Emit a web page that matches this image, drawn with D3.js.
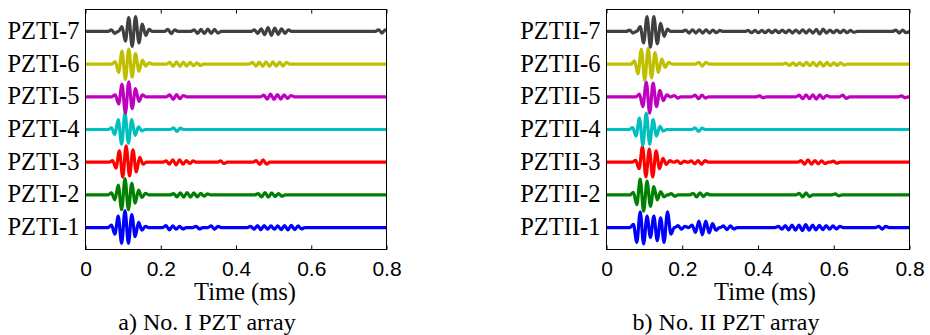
<!DOCTYPE html>
<html><head><meta charset="utf-8">
<script src="https://cdn.jsdelivr.net/npm/d3@7"></script>
<style>body{margin:0;background:#fff}svg{display:block}</style>
</head><body>
<svg id="c" width="930" height="335"></svg>
<script>
// ---------- data ----------
const timeTicks = [0, 0.2, 0.4, 0.6, 0.8];
const tickLabels = ["0", "0.2", "0.4", "0.6", "0.8"];
const traceColors = ["#0000ff", "#008000", "#ff0000", "#00bfbf", "#bf00bf", "#bfbf00", "#404040"];
const namesI = ["PZTI-1", "PZTI-2", "PZTI-3", "PZTI-4", "PZTI-5", "PZTI-6", "PZTI-7"];
const namesII = ["PZTII-1", "PZTII-2", "PZTII-3", "PZTII-4", "PZTII-5", "PZTII-6", "PZTII-7"];
const halfPeriod = 0.009; // ms between successive extrema
// each packet: [start time (ms), successive extrema amplitudes]
const packetsI1 = [[0.06, [0.08,-0.2,0.35,-0.48,0.52,-0.48,0.4,-0.28,0.16,-0.08,0.04]], [0.205, [0.06,-0.07,0.05,-0.05,0.04,-0.04]], [0.285, [0.04,-0.04]], [0.325, [0.05,-0.05,0.04]], [0.43, [0.04,-0.05,0.06,-0.06,0.06,-0.05,0.05,-0.05,0.05,-0.06,0.06,-0.07,0.07,-0.06,0.05,-0.04]]];
const packetsI2 = [[0.06, [0.06,-0.15,0.3,-0.45,0.5,-0.45,0.35,-0.25,0.15,-0.08,0.05]], [0.225, [0.04,-0.06,0.06,-0.07,0.07,-0.07,0.06,-0.06,0.05,-0.04,0.03]], [0.45, [0.04,-0.06,0.07,-0.07,0.06,-0.05,0.04,-0.04]]];
const packetsI3 = [[0.063, [0.05,-0.18,0.35,-0.45,0.5,-0.42,0.38,-0.3,0.15,-0.06]], [0.205, [0.04,-0.06,0.07,-0.08,0.07,-0.06,0.05,-0.04,0.04]], [0.35, [0.04,-0.04]], [0.445, [0.05,-0.07,0.07,-0.06]]];
const packetsI4 = [[0.06, [0.05,-0.15,0.3,-0.45,0.5,-0.42,0.3,-0.18,0.08,-0.04]], [0.225, [0.05,-0.06,0.04]]];
const packetsI5 = [[0.07, [0.06,-0.22,0.38,-0.5,0.46,-0.36,0.25,-0.14,0.06]], [0.215, [0.06,-0.08,0.07,-0.06,0.04]], [0.465, [0.05,-0.07,0.08,-0.08,0.07,-0.07,0.06,-0.05,0.04]]];
const packetsI6 = [[0.07, [0.08,-0.25,0.4,-0.47,0.46,-0.4,0.32,-0.22,0.12,-0.06,0.04]], [0.215, [0.05,-0.07,0.07,-0.07,0.06,-0.06,0.05,-0.05,0.04,-0.04]], [0.435, [0.05,-0.06,0.06,-0.07,0.07,-0.07,0.07,-0.06,0.06,-0.06,0.05]]];
const packetsI7 = [[0.06, [0.05,-0.06]], [0.088, [0.15,-0.3,0.42,-0.46,0.45,-0.35,0.22,-0.12,0.06]], [0.21, [0.06,-0.07,0.05]], [0.28, [0.05,-0.06,0.06,-0.07,0.07,-0.06,0.06,-0.05]], [0.44, [0.05,-0.06,0.08,-0.1,0.12,-0.12,0.1,-0.09,0.08,-0.06,0.05]], [0.77, [0.05,-0.05,0.05]]];
const packetsII1 = [[0.062, [0.1,-0.45,0.48,-0.5,0.35,-0.3,0.35,-0.4,0.3,-0.45,0.48,-0.2]], [0.18, [0.06,-0.05,0.04]], [0.217, [0.08,-0.15,0.2,-0.22,0.2,-0.16,0.12,-0.08]], [0.3, [0.05,-0.06,0.05,-0.04]], [0.445, [0.04,-0.05,0.06,-0.07,0.08,-0.08,0.08,-0.09,0.09,-0.08,0.08,-0.07,0.07,-0.06,0.06,-0.05,0.05,-0.04,0.04]], [0.71, [0.04,-0.05,0.04]]];
const packetsII2 = [[0.062, [0.08,-0.3,0.48,-0.5,0.42,-0.35,0.25,-0.15,0.1,-0.06]], [0.162, [0.04,-0.04]], [0.22, [0.05,-0.06,0.06,-0.05,0.04]], [0.5, [0.05,-0.06,0.06,-0.05]], [0.595, [0.03,-0.03]]];
const packetsII3 = [[0.068, [0.06,-0.2,0.48,-0.45,0.4,-0.45,0.35,-0.2,0.12,-0.07,0.05]], [0.178, [0.04,-0.04,0.03]], [0.215, [0.04,-0.05,0.05,-0.06,0.05]], [0.505, [0.05,-0.06,0.07,-0.06,0.05,-0.05,0.04,-0.04]], [0.59, [0.03,-0.03]]];
const packetsII4 = [[0.06, [0.06,-0.2,0.35,-0.48,0.5,-0.45,0.3,-0.2,0.1,-0.05]], [0.225, [0.05,-0.06,0.04]]];
const packetsII5 = [[0.078, [0.08,-0.3,0.45,-0.5,0.42,-0.3,0.2,-0.12,0.06]], [0.17, [0.04,-0.04]], [0.225, [0.05,-0.06,0.05,-0.04]], [0.395, [0.03,-0.03]], [0.5, [0.05,-0.06,0.06,-0.06,0.06,-0.07,0.06,-0.05,0.04]], [0.615, [0.05,-0.05]], [0.77, [0.03,-0.03]]];
const packetsII6 = [[0.065, [0.1,-0.3,0.45,-0.5,0.48,-0.42,0.35,-0.25,0.15,-0.1,0.05]], [0.235, [0.05,-0.06,0.05]], [0.465, [0.03,-0.04,0.04,-0.04,0.04,-0.05,0.05,-0.05,0.05,-0.06,0.06,-0.06,0.05,-0.05,0.04,-0.04,0.04,-0.03]]];
const packetsII7 = [[0.052, [0.04,-0.05]], [0.08, [0.15,-0.35,0.45,-0.48,0.45,-0.38,0.25,-0.15,0.07]], [0.2, [0.04,-0.05,0.05,-0.05,0.05,-0.05,0.05,-0.05,0.04,-0.04,0.03]], [0.365, [0.03,-0.04,0.03,-0.04,0.03,-0.04,0.04,-0.04,0.04,-0.04,0.04,-0.04,0.04,-0.05,0.04,-0.05,0.05,-0.05,0.05,-0.05,0.06,-0.08,0.07,-0.05,0.04,-0.04,0.04,-0.04,0.04,-0.04,0.03,-0.03]], [0.755, [0.04,-0.05,0.04,-0.04]]];
const panelI = [packetsI1, packetsI2, packetsI3, packetsI4, packetsI5, packetsI6, packetsI7];
const panelII = [packetsII1, packetsII2, packetsII3, packetsII4, packetsII5, packetsII6, packetsII7];
const captions = ["a) No. I PZT array", "b) No. II PZT array"];
const xTitle = "Time (ms)";

// ---------- drawing ----------
const svg = d3.select("#c");
const serif = "'Liberation Serif','Times New Roman',serif";
const sans = "'Liberation Sans',Arial,sans-serif";

function traceToPoints(packets) {
  const pts = [[0, 0]];
  packets.forEach(([t0, amps]) => {
    pts.push([t0, 0]);
    amps.forEach((a, i) => pts.push([t0 + (i + 1) * halfPeriod, a]));
    pts.push([t0 + (amps.length + 1) * halfPeriod, 0]);
  });
  pts.push([0.8, 0]);
  return pts;
}

function drawPanel(cfg) {
  const {x0, x1, y0, y1, packets, names, caption, titleX, capX, id} = cfg;
  const x = d3.scaleLinear().domain([0, 0.8]).range([x0, x1]);
  const y = d3.scaleLinear().domain([0.33, 7.67]).range([y1, y0]);
  const g = svg.append("g");
  g.append("clipPath").attr("id", id).append("rect")
    .attr("x", x0).attr("y", y0).attr("width", x1 - x0).attr("height", y1 - y0);

  const lines = g.append("g").attr("clip-path", `url(#${id})`);
  packets.forEach((p, k) => {
    const pts = traceToPoints(p);
    const line = d3.line().x(d => x(d[0])).y(d => y(k + 1 + d[1])).curve(d3.curveMonotoneX);
    lines.append("path").attr("d", line(pts)).attr("fill", "none")
      .attr("stroke", traceColors[k]).attr("stroke-width", 3.2)
      .attr("stroke-linejoin", "round").attr("stroke-linecap", "butt");
  });

  g.append("rect").attr("x", x0).attr("y", y0).attr("width", x1 - x0).attr("height", y1 - y0)
    .attr("fill", "none").attr("stroke", "#000").attr("stroke-width", 1);

  const axB = d3.axisBottom(x).tickValues(timeTicks).tickSize(-4).tickFormat((d, i) => tickLabels[i]);
  const gb = g.append("g").attr("transform", `translate(0,${y1})`).call(axB);
  gb.select(".domain").remove();
  gb.selectAll("text").attr("font-family", sans).attr("font-size", 21).attr("fill", "#000")
    .attr("dy", null).attr("y", 26);
  gb.selectAll("line").attr("stroke", "#000");
  const axT = d3.axisTop(x).tickValues(timeTicks).tickSize(-4).tickFormat("");
  const gt = g.append("g").attr("transform", `translate(0,${y0})`).call(axT);
  gt.select(".domain").remove();
  gt.selectAll("line").attr("stroke", "#000");

  g.selectAll("text.lab").data(names).enter().append("text").attr("class", "lab")
    .attr("x", x0 - 6).attr("y", (d, k) => y(k + 1) + 7.5)
    .attr("text-anchor", "end").attr("font-family", serif).attr("font-size", 24.5)
    .attr("fill", "#000").text(d => d);

  g.append("text").attr("x", titleX).attr("y", 300).attr("text-anchor", "middle")
    .attr("font-family", serif).attr("font-size", 24.5).attr("fill", "#000").text(xTitle);
  g.append("text").attr("x", capX).attr("y", 330).attr("text-anchor", "middle")
    .attr("font-family", serif).attr("font-size", 24).attr("fill", "#000").text(caption);
}

drawPanel({x0: 85.5, x1: 386.5, y0: 9.5, y1: 249.5, packets: panelI, names: namesI,
  caption: captions[0], titleX: 245, capX: 207, id: "clipA"});
drawPanel({x0: 606.5, x1: 909.5, y0: 9.5, y1: 249.5, packets: panelII, names: namesII,
  caption: captions[1], titleX: 765, capX: 726, id: "clipB"});
</script>
</body></html>
